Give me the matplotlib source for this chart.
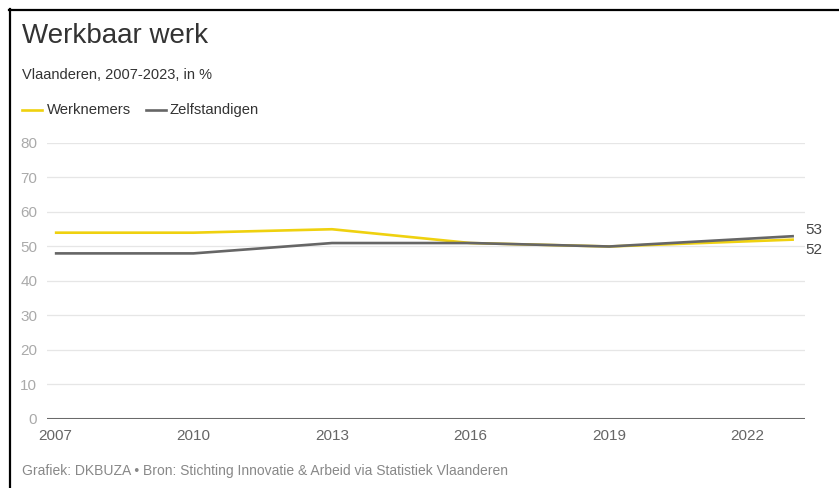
import matplotlib.pyplot as plt
from matplotlib.lines import Line2D

plt.rcParams['font.family'] = ['Liberation Sans', 'DejaVu Sans']

years = [2007, 2010, 2013, 2016, 2019, 2023]
werknemers = [54, 54, 55, 51, 50, 52]
zelfstandigen = [48, 48, 51, 51, 50, 53]
xticks = [2007, 2010, 2013, 2016, 2019, 2022]
yticks = [0, 10, 20, 30, 40, 50, 60, 70, 80]

yellow = '#EFD10F'
grey = '#666666'

fig = plt.figure(figsize=(8.39, 4.88), dpi=100)
ax = fig.add_axes([0.056, 0.1414, 0.9035, 0.5656])

ax.plot(years, werknemers, color=yellow, lw=1.9, solid_capstyle='butt')
ax.plot(years, zelfstandigen, color=grey, lw=1.9, solid_capstyle='butt')

ax.set_xlim(2006.83, 2023.24)
ax.set_ylim(0, 80)
ax.set_xticks(xticks)
ax.set_yticks(yticks)
ax.grid(axis='y', color='#e6e6e6', lw=0.9)
ax.set_axisbelow(True)
for s in ax.spines.values():
    s.set_visible(False)
ax.axhline(0, color='#6a6a6a', lw=2.2, zorder=3)
ax.tick_params(length=0)
ax.tick_params(axis='y', labelsize=11, labelcolor='#aaaaaa', pad=7)
ax.tick_params(axis='x', labelsize=11, labelcolor='#666666', pad=7)

# end labels, nudged apart
ax.annotate('53', (years[-1], zelfstandigen[-1]), xytext=(11, 6), textcoords='offset pixels',
            fontsize=11, color='#444444', va='center', ha='left')
ax.annotate('52', (years[-1], werknemers[-1]), xytext=(11, -10), textcoords='offset pixels',
            fontsize=11, color='#444444', va='center', ha='left')

fig.text(22 / 839, 1 - 36 / 488, 'Werkbaar werk', fontsize=20, color='#333333', va='center')
fig.text(22 / 839, 1 - 75 / 488, 'Vlaanderen, 2007-2023, in %', fontsize=10.5, color='#333333', va='center')

# legend
ly = 1 - 110 / 488
fig.add_artist(Line2D([22 / 839, 42 / 839], [ly, ly], color=yellow, lw=1.9))
fig.text(47 / 839, ly, 'Werknemers', fontsize=10.7, color='#333333', va='center')
fig.add_artist(Line2D([146 / 839, 166 / 839], [ly, ly], color=grey, lw=1.9))
fig.text(170 / 839, ly, 'Zelfstandigen', fontsize=10.6, color='#333333', va='center')

fig.text(22 / 839, 1 - 471 / 488, 'Grafiek: DKBUZA \u2022 Bron: Stichting Innovatie & Arbeid via Statistiek Vlaanderen',
         fontsize=10, color='#888888', va='center')

# frame lines (top and left)
fig.add_artist(Line2D([9 / 839, 1], [1 - 10 / 488, 1 - 10 / 488], color='black', lw=1.6))
fig.add_artist(Line2D([10 / 839, 10 / 839], [0, 1 - 9 / 488], color='black', lw=1.6))

fig.savefig('out.png', dpi=100)
